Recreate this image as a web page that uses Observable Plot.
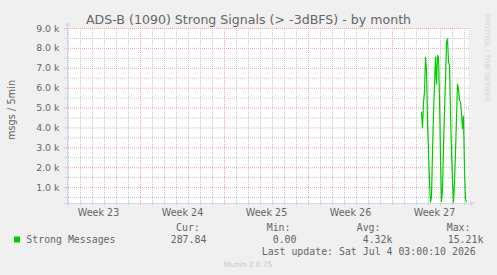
<!DOCTYPE html>
<html>
<head>
<meta charset="utf-8">
<script src="https://cdn.jsdelivr.net/npm/d3@7"></script>
<script src="https://cdn.jsdelivr.net/npm/@observablehq/plot@0.6"></script>
<style>
  html, body { margin: 0; padding: 0; background: #f0f0f0; }
  #chart { position: relative; width: 497px; height: 275px; background: #f0f0f0; overflow: hidden; }
  #chart > svg { position: absolute; left: 0; top: 0; }
</style>
</head>
<body>
<div id="chart"></div>
<script>
// ---------- data ----------
const title = "ADS-B (1090) Strong Signals (> -3dBFS) - by month";
const yLabel = "msgs / 5min";
const weekLabels = ["Week 23", "Week 24", "Week 25", "Week 26", "Week 27"];
const weekCenters = ["2026-06-04T12:00:00Z", "2026-06-11T12:00:00Z", "2026-06-18T12:00:00Z", "2026-06-25T12:00:00Z", "2026-07-02T12:00:00Z"];
const weekStarts = ["2026-06-08T00:00:00Z", "2026-06-15T00:00:00Z", "2026-06-22T00:00:00Z", "2026-06-29T00:00:00Z"];
const timeStart = "2026-06-01T22:00:00Z";
const timeEnd = "2026-07-05T08:00:00Z";
const seriesName = "Strong Messages";
const seriesStart = "2026-07-01T10:00:00Z";
const seriesStepHours = 2;
const seriesValues = [
  4800, 4000, 5300, 5800, 7550, 6900, 4300, 2800, 1300, 270,
  520, 2800, 4700, 6130, 7560, 6200, 7640, 7550, 5500, 2500,
  300, 900, 3000, 4800, 6400, 8300, 8480, 7300, 7150, 4800,
  2800, 1300, 270, 1300, 2800, 4500, 6200, 5970, 5380, 5300,
  4710, 3960, 4600, 1900, 400, 288
];
const yTicks = [1000, 2000, 3000, 4000, 5000, 6000, 7000, 8000, 9000];
const yMinorTicks = [500, 1500, 2500, 3500, 4500, 5500, 6500, 7500, 8500];
const yMin = 200, yMax = 9000;
const statLabels = ["Cur:", "Min:", "Avg:", "Max:"];
const statValues = ["287.84", "0.00", "4.32k", "15.21k"];
const lastUpdate = "Last update: Sat Jul  4 03:00:10 2026";
const credit = "Munin 2.0.75";
const watermark = "RRDTOOL / TOBI OETIKER";

// ---------- build ----------
const W = 497, H = 275;
const gridColor = "#c6c6c6";
const mgridColor = "#eda6a6";
const axisColor = "#CFD6F8";
const fontColor = "#666666";
const lineColor = "#00CC00";

const xDomain = [new Date(timeStart), new Date(timeEnd)];
const t0 = new Date(seriesStart).getTime();
const data = seriesValues.map((v, i) => ({t: new Date(t0 + i * seriesStepHours * 3600e3), v}));
const majors = weekStarts.map(d => new Date(d));
const majorSet = new Set(majors.map(d => +d));
const minorDays = d3.utcDay.range(d3.utcDay.ceil(xDomain[0]), xDomain[1]).filter(d => !majorSet.has(+d));
const centers = weekCenters.map(d => new Date(d));
const labelByTime = new Map(centers.map((d, i) => [+d, weekLabels[i]]));

const plot = Plot.plot({
  width: W,
  height: 222,
  marginTop: 28,
  marginBottom: 19,
  marginLeft: 67,
  marginRight: 29,
  x: {type: "utc", domain: xDomain, label: null},
  y: {domain: [yMin, yMax], label: null},
  style: {background: "transparent", fontFamily: "'DejaVu Sans', sans-serif", fontSize: "9.4px", color: fontColor, overflow: "visible"},
  marks: [
    Plot.frame({fill: "white", stroke: "none"}),
    Plot.ruleY(yMinorTicks, {stroke: gridColor, strokeDasharray: "1,1", insetLeft: -3, insetRight: -2}),
    Plot.ruleX(minorDays, {stroke: gridColor, strokeDasharray: "1,1", insetBottom: -3}),
    Plot.ruleY(yTicks, {stroke: mgridColor, strokeDasharray: "1,1", insetLeft: -3, insetRight: -2}),
    Plot.ruleX(majors, {stroke: mgridColor, strokeDasharray: "1,1", insetBottom: -3}),
    Plot.line(data, {x: "t", y: "v", stroke: lineColor, strokeWidth: 1.2}),
    Plot.ruleY([yMin], {stroke: axisColor, insetLeft: -3, insetRight: -3}),
    Plot.ruleX([xDomain[0]], {stroke: axisColor, insetTop: -3, insetBottom: -3}),
    Plot.dot([{x: xDomain[1], y: yMin}], {x: "x", y: "y", symbol: "triangle", rotate: 90, r: 2, fill: axisColor, stroke: "none", dx: 3}),
    Plot.dot([{x: xDomain[0], y: yMax}], {x: "x", y: "y", symbol: "triangle", r: 2, fill: axisColor, stroke: "none", dy: -4}),
    Plot.axisY(yTicks, {tickSize: 0, tickPadding: 8, tickFormat: d => (d / 1000).toFixed(1) + " k", fill: fontColor, label: null, fontSize: 9.4}),
    Plot.axisX(centers, {tickSize: 0, tickPadding: 6, tickFormat: d => labelByTime.get(+d), fill: fontColor, label: null, fontSize: 9.6})
  ]
});
document.getElementById("chart").appendChild(plot);

// overlay text (title, unit label, legend, credits)
const svg = d3.select("#chart").append("svg")
  .attr("width", W).attr("height", H)
  .style("pointer-events", "none");

const sans = "'DejaVu Sans', sans-serif";
const mono = "'DejaVu Sans Mono', monospace";

svg.append("text").attr("x", 248.5).attr("y", 24)
  .attr("text-anchor", "middle").attr("font-family", sans).attr("font-size", 12.6)
  .attr("fill", fontColor).text(title);

svg.append("text").attr("transform", "translate(14.5,110) rotate(-90)")
  .attr("text-anchor", "middle").attr("font-family", sans).attr("font-size", 9.8)
  .attr("fill", fontColor).text(yLabel);

svg.append("text").attr("transform", "translate(485,14) rotate(90)")
  .attr("text-anchor", "start").attr("font-family", sans).attr("font-size", 6.8)
  .attr("fill", "#d0d0d0").text(watermark);

// legend
svg.append("rect").attr("x", 14).attr("y", 236.5).attr("width", 6).attr("height", 6).attr("fill", lineColor);
const legend = svg.append("g").attr("font-family", mono).attr("font-size", 9.9).attr("fill", fontColor)
  .attr("xml:space", "preserve").style("white-space", "pre");
legend.append("text").attr("x", 26.3).attr("y", 243).text(seriesName);
const statLabelX = [176, 266.7, 356.7, 446.7];
const statValueX = [170.7, 272.7, 362.7, 447.7];
statLabels.forEach((s, i) => legend.append("text").attr("x", statLabelX[i]).attr("y", 231).text(s));
statValues.forEach((s, i) => legend.append("text").attr("x", statValueX[i]).attr("y", 243).text(s));
legend.append("text").attr("x", 261.7).attr("y", 255).text(lastUpdate);

svg.append("text").attr("x", 248).attr("y", 267).attr("text-anchor", "middle")
  .attr("font-family", sans).attr("font-size", 7.4).attr("fill", "#c8c8c8").text(credit);
</script>
</body>
</html>
